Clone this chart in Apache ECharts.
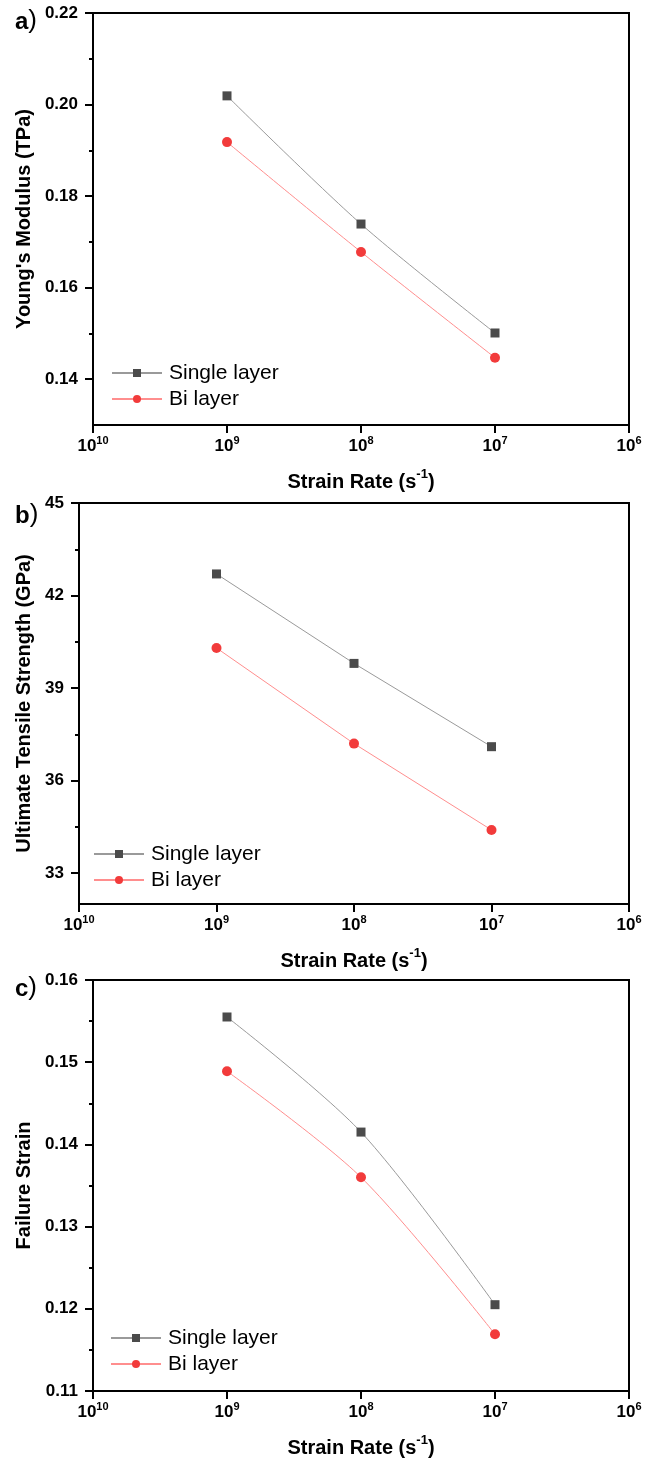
<!DOCTYPE html>
<html>
<head>
<meta charset="utf-8">
<script src="https://cdn.jsdelivr.net/npm/echarts@6/dist/echarts.min.js"></script>
<style>html,body{margin:0;padding:0;background:#fff}#c{width:660px;height:1461px}</style>
</head>
<body>
<div id="c"></div>
<script>
// ---- data ----
const strainRates = [1e9, 1e8, 1e7];
const xTicks = [1e10, 1e9, 1e8, 1e7, 1e6];
const seriesNames = ['Single layer', 'Bi layer'];

const youngSingle = [0.2019, 0.1739, 0.1501];
const youngBi = [0.1918, 0.1678, 0.1447];
const youngTicks = [0.14, 0.16, 0.18, 0.20, 0.22];
const youngMinor = [0.15, 0.17, 0.19, 0.21];

const utsSingle = [42.7, 39.8, 37.1];
const utsBi = [40.3, 37.2, 34.4];
const utsTicks = [33, 36, 39, 42, 45];
const utsMinor = [34.5, 37.5, 40.5, 43.5];

const failSingle = [0.1555, 0.1415, 0.1205];
const failBi = [0.1489, 0.1360, 0.1169];
const failTicks = [0.11, 0.12, 0.13, 0.14, 0.15, 0.16];
const failMinor = [0.115, 0.125, 0.135, 0.145, 0.155];

const panelLabels = ['a', 'b', 'c'];
const yNames = ["Young's Modulus (TPa)", 'Ultimate Tensile Strength (GPa)', 'Failure Strain'];
const xName = 'Strain Rate (s';

// ---- layout/style ----
const FONT = '"Liberation Sans", Arial, sans-serif';
const grids = [
  {left: 93, top: 13, width: 536, height: 412},
  {left: 79, top: 503, width: 550, height: 401},
  {left: 93, top: 980, width: 536, height: 411}
];
const yRanges = [[0.13, 0.22], [32, 45], [0.11, 0.16]];
const yTicksAll = [youngTicks, utsTicks, failTicks];
const yMinorAll = [youngMinor, utsMinor, failMinor];
const yDecimals = [2, 0, 2];
const yNameGaps = [56, 42, 58];
const legendPos = [{left: 111, top: 362}, {left: 93, top: 843}, {left: 110, top: 1327}];
const titleTops = [8, 502, 975];
const singleData = [youngSingle, utsSingle, failSingle];
const biData = [youngBi, utsBi, failBi];
const smoothAll = [0.3, 0, 0.3];

const option = {
  animation: false,
  backgroundColor: '#fff',
  title: [], grid: [], xAxis: [], yAxis: [], legend: [], series: []
};

for (let p = 0; p < 3; p++) {
  option.grid.push(Object.assign({show: true, borderColor: '#000', borderWidth: 2, backgroundColor: 'transparent', containLabel: false}, grids[p]));
  option.title.push({
    text: '{a|' + panelLabels[p] + '}{p|)}',
    left: 15, top: titleTops[p], padding: 0,
    textStyle: {rich: {
      a: {fontSize: 24, fontWeight: 'bold', fontFamily: FONT, color: '#000', lineHeight: 26, verticalAlign: 'bottom'},
      p: {fontSize: 26, fontWeight: 'normal', fontFamily: FONT, color: '#000', lineHeight: 26, verticalAlign: 'bottom'}
    }}
  });
  option.xAxis.push({
    type: 'log', logBase: 10, gridIndex: p, min: 1e6, max: 1e10, inverse: true,
    axisLine: {show: true, lineStyle: {color: '#000', width: 2}},
    axisTick: {show: true, inside: false, length: 8, lineStyle: {color: '#000', width: 2}},
    minorTick: {show: false}, splitLine: {show: false},
    axisLabel: {
      margin: 10, showMinLabel: true, showMaxLabel: true,
      formatter: v => '{b|10}{s|' + Math.round(Math.log10(v)) + '}',
      rich: {
        b: {fontSize: 17, fontWeight: 'bold', fontFamily: FONT, color: '#000', lineHeight: 20, verticalAlign: 'bottom'},
        s: {fontSize: 11, fontWeight: 'bold', fontFamily: FONT, color: '#000', lineHeight: 11, verticalAlign: 'top'}
      }
    },
    name: '{t|' + xName + '}{s|-1}{t|)}', nameLocation: 'middle', nameGap: 43,
    nameTextStyle: {rich: {
      t: {fontSize: 20, fontWeight: 'bold', fontFamily: FONT, color: '#000', lineHeight: 24, verticalAlign: 'bottom'},
      s: {fontSize: 13, fontWeight: 'bold', fontFamily: FONT, color: '#000', lineHeight: 13, verticalAlign: 'top'}
    }}
  });
  const dec = yDecimals[p];
  option.yAxis.push({
    type: 'value', gridIndex: p, min: yRanges[p][0], max: yRanges[p][1], position: 'left',
    axisLine: {show: true, lineStyle: {color: '#000', width: 2}},
    axisTick: {show: true, inside: false, length: 8, customValues: yTicksAll[p], lineStyle: {color: '#000', width: 2}},
    splitLine: {show: false},
    axisLabel: {
      customValues: yTicksAll[p], margin: 15,
      formatter: v => Number(v).toFixed(dec),
      fontSize: 17, fontWeight: 'bold', fontFamily: FONT, color: '#000'
    },
    name: yNames[p], nameLocation: 'middle', nameGap: yNameGaps[p], nameRotate: 90,
    nameTextStyle: {fontSize: 20, fontWeight: 'bold', fontFamily: FONT, color: '#000'}
  });
  option.yAxis.push({
    type: 'value', gridIndex: p, min: yRanges[p][0], max: yRanges[p][1], position: 'left',
    axisLine: {show: false},
    axisTick: {show: true, inside: false, length: 4, customValues: yMinorAll[p], lineStyle: {color: '#000', width: 2}},
    axisLabel: {show: false}, splitLine: {show: false}
  });
  option.legend.push(Object.assign({
    orient: 'vertical', padding: 0, itemGap: 4, itemWidth: 50, itemHeight: 10,
    data: seriesNames,
    textStyle: {fontSize: 21, fontFamily: FONT, color: '#000', lineHeight: 22, padding: [0, 0, 0, 2]}
  }, legendPos[p]));
  option.series.push({
    name: seriesNames[0], type: 'line', xAxisIndex: p, yAxisIndex: 2 * p,
    data: strainRates.map((r, k) => [r, singleData[p][k]]),
    symbol: 'rect', symbolSize: 9, smooth: smoothAll[p],
    itemStyle: {color: '#4b4b4b'}, lineStyle: {color: '#9a9a9a', width: 1}
  });
  option.series.push({
    name: seriesNames[1], type: 'line', xAxisIndex: p, yAxisIndex: 2 * p,
    data: strainRates.map((r, k) => [r, biData[p][k]]),
    symbol: 'circle', symbolSize: 10, smooth: smoothAll[p],
    itemStyle: {color: '#f23b3b'}, lineStyle: {color: '#ff8e8e', width: 1}
  });
}

const chart = echarts.init(document.getElementById('c'), null, {renderer: 'canvas'});
chart.setOption(option);
</script>
</body>
</html>
